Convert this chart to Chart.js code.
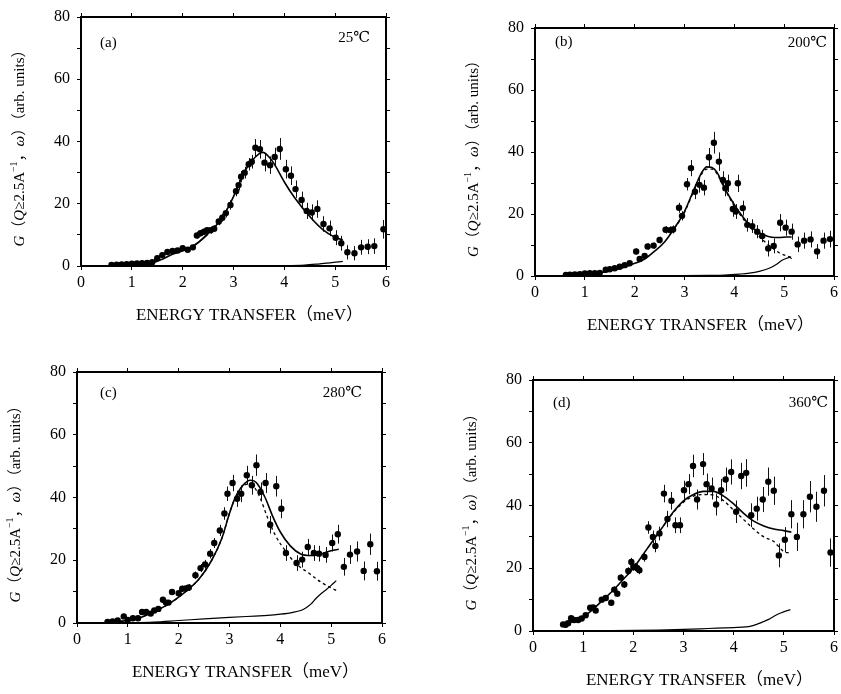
<!DOCTYPE html>
<html><head><meta charset="utf-8">
<script src="https://cdn.jsdelivr.net/npm/chart.js@4.4.1/dist/chart.umd.min.js"></script>
<style>
html,body{margin:0;padding:0;background:#fff}
body{width:841px;height:694px;position:relative;overflow:hidden}
canvas{position:absolute}
</style></head><body>
<canvas id="pa" width="420" height="340" style="left:0;top:0"></canvas>
<canvas id="pb" width="421" height="340" style="left:420px;top:0"></canvas>
<canvas id="pc" width="420" height="354" style="left:0;top:340px"></canvas>
<canvas id="pd" width="421" height="354" style="left:420px;top:340px"></canvas>
<script>
// ---------- tick labels ----------
const xTickValues = [0,1,2,3,4,5,6];
const yTickLabels = [0,20,40,60,80];
const panelLabels = ['(a)','(b)','(c)','(d)'];
const tempLabels = ['25℃','200℃','280℃','360℃'];
const xTitle = 'ENERGY TRANSFER（meV）';

// ---------- panel (a) 25℃ ----------
const aX = [0.6,0.7,0.8,0.9,1.0,1.1,1.2,1.3,1.4,1.5,1.6,1.7,1.8,1.9,2.0,2.1,2.2,2.28,2.35,2.42,2.48,2.55,2.62,2.71,2.78,2.85,2.94,3.05,3.1,3.15,3.22,3.3,3.36,3.43,3.52,3.61,3.72,3.81,3.91,4.03,4.13,4.22,4.34,4.44,4.54,4.65,4.77,4.89,5.01,5.12,5.24,5.38,5.51,5.64,5.77,5.95];
const aY = [0.3,0.4,0.5,0.6,0.7,0.8,0.9,1.0,1.2,2.5,3.5,4.5,4.8,5.0,5.7,5.2,6.0,9.8,10.5,11,11.5,11.5,12,14.3,15.5,17,19.6,24,26,28.7,30,32.7,33.5,38,37.5,33.2,32.4,35,37.6,31.1,29,24.7,21.2,17.7,17.2,18.3,13.5,12.1,9.1,7.3,4.4,4.1,6,6.2,6.4,11.8];
const aErr = [0.3,0.3,0.3,0.3,0.3,0.3,0.3,0.3,0.4,0.5,0.6,0.7,0.7,0.8,0.8,0.8,0.9,1.0,1.0,1.0,1.0,1.1,1.1,1.2,1.3,1.4,1.5,1.6,1.7,1.8,1.9,2.0,2.2,2.8,3.0,2.8,2.8,3.0,3.5,3.0,3.0,2.8,2.7,2.6,2.6,2.8,2.5,2.5,2.4,2.4,2.3,2.3,2.4,2.4,2.5,3.0];
const aFitX = [0.6,1.0,1.4,1.6,1.8,2.0,2.25,2.5,2.75,2.9,3.0,3.1,3.2,3.35,3.5,3.58,3.7,3.8,4.0,4.2,4.5,4.75,5.0,5.15];
const aFitY = [0,0.5,1,2.2,3.8,4.9,6.8,10.5,14.8,19,22.3,26,29.8,33.5,36,36.5,35,32.8,27,22,15.9,11.8,9.2,8.4];
const aDashX = [0.6,1.0,1.4,1.5,1.7,1.9,2.1,2.3,2.5];
const aDashY = [0,0.5,1.1,2.8,4.5,5.0,5.6,7.5,10.2];
const aBgX = [0.6,2.0,3.0,4.0,4.4,4.7,4.9,5.15];
const aBgY = [0,0,0,0.1,0.3,0.7,1.0,1.5];

// ---------- panel (b) 200℃ ----------
const bX = [0.62,0.7,0.8,0.9,1.0,1.1,1.2,1.3,1.42,1.5,1.6,1.7,1.8,1.9,2.03,2.1,2.2,2.26,2.38,2.5,2.62,2.71,2.77,2.89,2.95,3.05,3.13,3.21,3.3,3.39,3.49,3.59,3.69,3.77,3.82,3.87,3.97,4.03,4.07,4.17,4.26,4.36,4.46,4.56,4.68,4.79,4.92,5.03,5.15,5.27,5.4,5.53,5.66,5.79,5.92];
const bY = [0.3,0.4,0.5,0.6,0.8,0.9,0.9,1.0,2.0,2.2,2.5,3.0,3.5,4.1,7.9,5.5,6.5,9.5,9.8,11.6,14.9,14.8,15,22,19.4,29.6,34.8,27.2,29.4,28.5,38.3,43,36.9,31,28.3,29.9,21.6,20.8,29.9,21.9,16.5,16.1,14.3,12.9,8.9,9.7,17.2,15.6,14.3,10.2,11.4,11.8,7.9,11.4,11.9];
const bErr = [0.3,0.3,0.3,0.3,0.3,0.3,0.3,0.3,0.4,0.4,0.5,0.5,0.6,0.7,0.9,0.8,0.9,1.0,1.0,1.1,1.2,1.2,1.3,1.6,1.5,2.0,2.6,2.4,2.5,2.5,3.0,3.5,3.0,2.8,2.6,2.8,2.5,2.4,2.8,2.4,2.2,2.2,2.1,2.0,2.6,2.4,2.8,2.6,2.6,2.5,2.6,2.6,2.4,2.6,2.7];
const bFitX = [0.6,1.0,1.3,1.6,1.9,2.2,2.4,2.6,2.8,3.0,3.2,3.35,3.45,3.55,3.65,3.8,4.0,4.15,4.3,4.45,4.6,4.75,4.9,5.05,5.15];
const bFitY = [0,0.6,1,2,3.5,5.5,8,11,15.5,20.8,28.3,33.5,35.2,35,33.5,28.5,23,19.5,16.5,14.5,13.2,12.5,12.4,12.6,12.6];
const bDashX = [2.8,3.0,3.2,3.35,3.45,3.55,3.65,3.8,4.0,4.15,4.3,4.45,4.6,4.75,4.9,5.05,5.15];
const bDashY = [15.3,20.5,28,33,34.5,34.5,33,28.3,22.5,19,16,13.5,11.2,9.2,7.5,6.5,6.0];
const bBgX = [0.6,2.0,3.0,3.5,3.8,4.1,4.3,4.5,4.7,4.85,4.95,5.05,5.11,5.15];
const bBgY = [0,0,0.1,0.2,0.3,0.6,0.9,1.5,2.5,3.8,5.0,5.7,6.0,5.6];

// ---------- panel (c) 280℃ ----------
const cX = [0.6,0.7,0.8,0.92,1.0,1.1,1.2,1.28,1.36,1.45,1.52,1.6,1.69,1.75,1.8,1.87,2.0,2.07,2.14,2.2,2.33,2.43,2.52,2.62,2.7,2.81,2.9,2.96,3.06,3.15,3.23,3.34,3.44,3.53,3.61,3.71,3.8,3.92,4.02,4.11,4.32,4.43,4.54,4.66,4.76,4.89,5.02,5.13,5.25,5.37,5.51,5.64,5.77,5.9];
const cY = [0.3,0.5,0.8,2.1,1.0,1.5,1.5,3.5,3.5,3.0,4.0,4.5,7.4,6.5,6.5,9.9,9.5,10.9,11,11.3,15.2,17.5,18.7,22.1,25.5,29.5,34.9,41.2,44.6,39.6,41.2,47.1,43.9,50.3,41.8,44.6,31.3,43.6,36.4,22.3,19.1,20.2,24.2,22.3,22.1,21.7,25.5,28.3,17.9,21.8,22.8,16.6,25.1,16.5];
const cErr = [0.3,0.3,0.4,0.5,0.4,0.5,0.5,0.6,0.6,0.6,0.7,0.7,0.8,0.8,0.8,0.9,1.0,1.0,1.0,1.1,1.2,1.3,1.4,1.5,1.6,1.8,2.0,2.3,2.6,2.6,2.7,3.0,3.0,3.4,3.0,3.2,2.8,3.3,3.0,2.5,2.5,2.5,2.6,2.5,2.5,2.5,2.7,3.0,2.8,3.0,3.2,3.0,3.4,3.0];
const cFitX = [0.6,0.9,1.2,1.5,1.8,2.1,2.4,2.65,2.85,3.0,3.1,3.2,3.3,3.4,3.48,3.55,3.7,3.85,4.0,4.2,4.4,4.6,4.8,5.0,5.15];
const cFitY = [0,0.6,1.5,3.5,6,9.5,14,20,27,35,39.5,42.5,44.5,45.5,45.3,44.3,40,34,29,24.5,22,21.5,22,23,23.5];
const cDashX = [0.6,0.9,1.2,1.5,1.8,2.1,2.4,2.65,2.85,3.0,3.1,3.2,3.3,3.4,3.5,3.6,3.75,3.9,4.1,4.3,4.55,4.8,5.0,5.1];
const cDashY = [0,0.6,1.5,3.5,6,9.5,14,20,27,35,39.5,42.5,44,44.3,43,40,33.5,28,23,19,16,13,11.2,10.4];
const cBgX = [0.6,1.0,1.5,2.0,2.5,3.0,3.5,3.75,4.0,4.25,4.4,4.5,4.6,4.7,4.8,4.9,5.0,5.1];
const cBgY = [0,0.1,0.3,0.8,1.3,1.8,2.2,2.4,2.8,3.4,4.0,4.8,6.0,7.8,9.3,10.6,12,13.5];

// ---------- panel (d) 360℃ ----------
const dX = [0.6,0.65,0.7,0.76,0.82,0.9,0.97,1.05,1.14,1.2,1.25,1.37,1.45,1.56,1.62,1.68,1.75,1.82,1.9,1.96,2.0,2.04,2.08,2.12,2.22,2.3,2.39,2.44,2.52,2.61,2.68,2.76,2.84,2.93,3.01,3.1,3.19,3.27,3.39,3.46,3.56,3.65,3.75,3.84,3.95,4.05,4.15,4.25,4.35,4.46,4.58,4.69,4.8,4.9,5.02,5.15,5.26,5.39,5.52,5.65,5.8,5.93];
const dY = [2.1,2.0,2.5,4.1,3.5,3.5,4.0,5.0,7.4,7.5,6.5,10,10.5,9,13.2,11.9,17,14.8,19.1,22,20.5,20.4,20,19.4,23.6,33,30,27.1,31.1,43.8,35.7,41.5,33.7,33.7,44.9,46.8,52.6,41.9,53.2,46.8,45.4,40.3,44.9,48.3,50.7,38,49.4,50.4,36.9,39,41.9,47.6,44.7,24.1,29.1,37.2,30,37.2,42.8,39.6,44.7,25];
const dErr = [0.4,0.4,0.4,0.5,0.5,0.5,0.5,0.6,0.7,0.7,0.7,0.8,0.8,0.9,1.0,1.0,1.1,1.1,1.2,1.3,1.3,1.3,1.3,1.3,1.5,2.0,2.0,2.0,2.2,2.8,2.6,2.8,2.5,2.5,3.0,3.2,3.6,3.2,3.5,3.4,3.5,3.5,3.6,3.8,4.0,3.6,4.2,4.4,3.8,3.8,4.0,4.5,4.5,3.8,4.0,4.5,4.5,4.5,5.0,4.8,5.0,4.5];
const dFitX = [0.6,0.8,1.0,1.2,1.4,1.6,1.8,2.0,2.2,2.4,2.6,2.8,3.0,3.2,3.4,3.6,3.8,4.0,4.2,4.4,4.6,4.8,5.0,5.15];
const dFitY = [2,3,4.5,7,10,13,16.5,20,24.5,29,33.5,38,41.5,43.5,44.5,44.5,43,40.5,37.5,35,33.5,32.5,32,31.5];
const dDashX = [2.6,2.8,3.0,3.2,3.4,3.6,3.8,4.0,4.2,4.4,4.6,4.8,4.95,5.05,5.15];
const dDashY = [33.5,37.8,41,43,43.5,43.3,41.5,38.5,35.5,32.5,30,28.5,26,25,25];
const dBgX = [0.6,1.5,2.5,3.0,3.5,4.0,4.25,4.4,4.58,4.7,4.84,4.95,5.05,5.13];
const dBgY = [0,0.1,0.3,0.5,0.8,1.1,1.3,1.8,2.9,3.7,5.0,5.8,6.4,6.8];

// ---------- drawing ----------
const SERIF = "'Liberation Serif','DejaVu Serif','Noto Sans CJK SC',serif";
const pts = (xs, ys) => xs.map((x, i) => ({x: x, y: ys[i]}));

const decor = {
  id: 'decor',
  beforeDatasetsDraw(chart) {
    const ctx = chart.ctx, sx = chart.scales.x, sy = chart.scales.y;
    const ds = chart.data.datasets[0];
    const A = chart.chartArea;
    ctx.save();
    ctx.beginPath();
    ctx.rect(A.left, A.top, A.right - A.left, A.bottom - A.top);
    ctx.clip();
    ctx.strokeStyle = '#111';
    ctx.lineWidth = 1;
    ds.data.forEach((p, i) => {
      const e = ds.errors[i];
      const px = Math.round(sx.getPixelForValue(p.x)) + 0.5;
      ctx.beginPath();
      ctx.moveTo(px, sy.getPixelForValue(p.y - e));
      ctx.lineTo(px, sy.getPixelForValue(p.y + e));
      ctx.stroke();
    });
    ctx.restore();
  },
  afterDraw(chart, args, o) {
    const ctx = chart.ctx, A = chart.chartArea;
    ctx.save();
    ctx.fillStyle = '#000';
    ctx.textBaseline = 'middle';
    ctx.font = '15px ' + SERIF;
    ctx.textAlign = 'left';
    ctx.fillText(o.label, A.left + o.lx, A.top + o.ly);
    ctx.textAlign = 'right';
    ctx.fillText(o.temp, A.right - o.rx, A.top + o.ry);
    // x title
    ctx.textAlign = 'center';
    ctx.font = '17px ' + SERIF;
    ctx.fillText(xTitle, (A.left + A.right) / 2 + 16, A.bottom + 50);
    // y title with mixed styles
    const F = 15;
    const segs = [
      ['G', 'italic ' + F + 'px ' + SERIF, 0],
      ['（', F + 'px ' + SERIF, 0],
      ['Q', 'italic ' + F + 'px ' + SERIF, 0],
      ['≥2.5A', F + 'px ' + SERIF, 0],
      ['−1', '10px ' + SERIF, -6],
      ['，', F + 'px ' + SERIF, 0],
      ['ω', 'italic ' + F + 'px ' + SERIF, 0],
      ['）（arb. units）', F + 'px ' + SERIF, 0]
    ];
    let total = 0;
    segs.forEach(s => { ctx.font = s[1]; s.w = ctx.measureText(s[0]).width; total += s.w; });
    ctx.translate(A.left - 61, (A.top + A.bottom) / 2 + 3);
    ctx.rotate(-Math.PI / 2);
    ctx.textAlign = 'left';
    let x = -total / 2;
    segs.forEach(s => { ctx.font = s[1]; ctx.fillText(s[0], x, s[2]); x += s.w; });
    ctx.restore();
  }
};

function fixW(w) { return s => { s.width = w; }; }
function fixH(h) { return s => { s.height = h; }; }

function makePanel(id, d, area, lab) {
  const cv = document.getElementById(id);
  const W = cv.width, H = cv.height;
  const grid = {display: true, drawOnChartArea: false, drawTicks: true, tickLength: 4, color: '#000', lineWidth: 1};
  const border = {display: true, color: '#000', width: 2};
  new Chart(cv, {
    type: 'scatter',
    data: {datasets: [
      {data: pts(d.x, d.y), errors: d.err, pointRadius: 3.2, pointHoverRadius: 3.2, backgroundColor: '#000', borderColor: '#000', borderWidth: 0, order: 0},
      {data: pts(d.fitX, d.fitY), showLine: true, borderColor: '#000', borderWidth: 1.6, pointRadius: 0, cubicInterpolationMode: 'monotone', order: 1},
      {data: pts(d.dashX, d.dashY), showLine: true, borderColor: '#000', borderWidth: 1.3, borderDash: d.dashStyle, pointRadius: 0, cubicInterpolationMode: 'monotone', order: 2},
      {data: pts(d.bgX, d.bgY), showLine: true, borderColor: '#000', borderWidth: 1.2, pointRadius: 0, cubicInterpolationMode: 'monotone', order: 3}
    ]},
    options: {
      responsive: false, animation: false, devicePixelRatio: 1,
      layout: {padding: 0},
      plugins: {legend: {display: false}, tooltip: {enabled: false}, decor: lab},
      scales: {
        x: {type: 'linear', position: 'bottom', min: 0, max: 6,
            afterBuildTicks: s => { s.ticks = xTickValues.map(v => ({value: v})); },
            ticks: {color: '#000', font: {family: SERIF, size: 16}, padding: 3},
            grid: grid, border: border, afterFit: fixH(H - area.b)},
        y: {type: 'linear', position: 'left', min: 0, max: 80,
            ticks: {stepSize: 10, color: '#000', font: {family: SERIF, size: 16}, padding: 7,
                    callback: v => yTickLabels.includes(v) ? String(v) : ''},
            grid: grid, border: border, afterFit: fixW(area.l)},
        x2: {type: 'linear', position: 'top', min: 0, max: 6,
             afterBuildTicks: s => { s.ticks = xTickValues.map(v => ({value: v})); },
             ticks: {display: false}, grid: grid, border: border, afterFit: fixH(area.t)},
        y2: {type: 'linear', position: 'right', min: 0, max: 80,
             ticks: {display: false, stepSize: 10}, grid: grid, border: border, afterFit: fixW(W - area.r)}
      }
    },
    plugins: [decor]
  });
}

makePanel('pa', {x: aX, y: aY, err: aErr, fitX: aFitX, fitY: aFitY, dashX: aDashX, dashY: aDashY, bgX: aBgX, bgY: aBgY, dashStyle: []},
  {l: 81, t: 17, r: 386, b: 266}, {label: panelLabels[0], temp: tempLabels[0], lx: 19, ly: 26, rx: 16, ry: 21});
makePanel('pb', {x: bX, y: bY, err: bErr, fitX: bFitX, fitY: bFitY, dashX: bDashX, dashY: bDashY, bgX: bBgX, bgY: bBgY, dashStyle: [3, 3]},
  {l: 115, t: 28, r: 420, b: 276}, {label: panelLabels[1], temp: tempLabels[1], lx: 20, ly: 14, rx: 7, ry: 15});
makePanel('pc', {x: cX, y: cY, err: cErr, fitX: cFitX, fitY: cFitY, dashX: cDashX, dashY: cDashY, bgX: cBgX, bgY: cBgY, dashStyle: [3, 3]},
  {l: 77, t: 32, r: 382, b: 283}, {label: panelLabels[2], temp: tempLabels[2], lx: 23, ly: 21, rx: 20, ry: 21});
makePanel('pd', {x: dX, y: dY, err: dErr, fitX: dFitX, fitY: dFitY, dashX: dDashX, dashY: dDashY, bgX: dBgX, bgY: dBgY, dashStyle: [3, 3]},
  {l: 113, t: 40, r: 419, b: 291}, {label: panelLabels[3], temp: tempLabels[3], lx: 20, ly: 23, rx: 6, ry: 23});
</script>
</body></html>
